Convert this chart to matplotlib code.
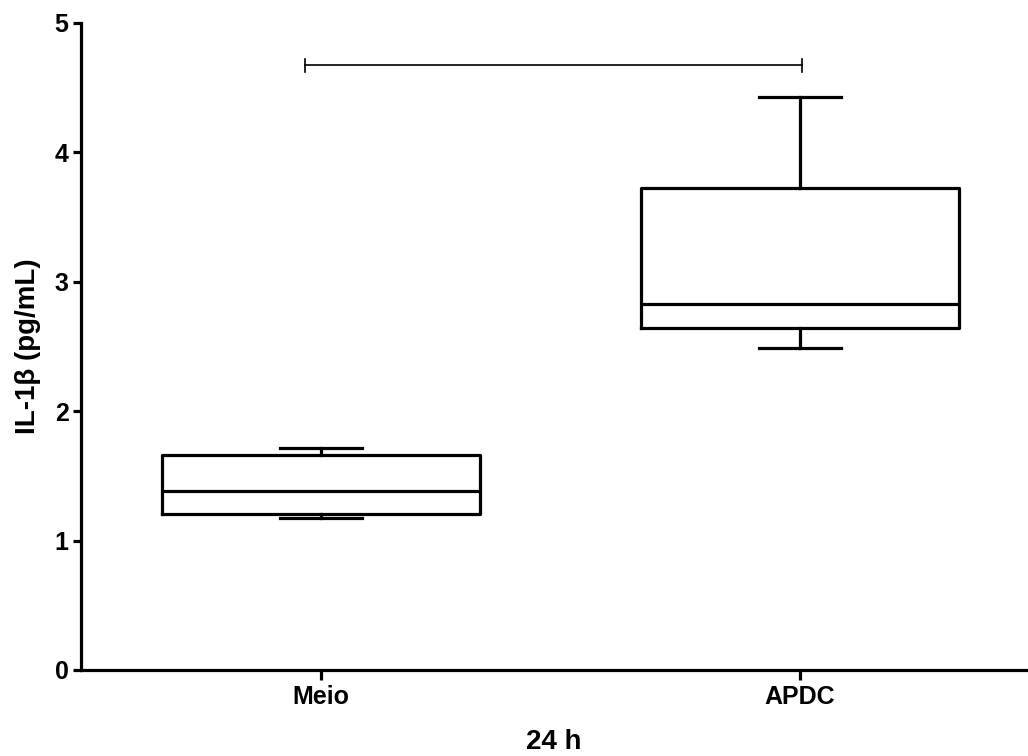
import matplotlib
matplotlib.use("Agg")
import matplotlib.pyplot as plt

# Groups and box statistics (pg/mL)
groups = ["Meio", "APDC"]
whisker_low = [1.177, 2.49]
q1 = [1.203, 2.646]
median = [1.386, 2.831]
q3 = [1.661, 3.727]
whisker_high = [1.718, 4.43]

# significance bracket
bracket_y = 4.673
bracket_x = [-0.033, 1.004]

plt.rcParams['font.family'] = ['Liberation Sans', 'DejaVu Sans']
plt.rcParams['font.weight'] = 'bold'

fig = plt.figure(figsize=(10.28, 7.56), dpi=100)
ax = fig.add_axes([0.0788, 0.1138, 0.9202, 0.8558])

stats = []
for i, g in enumerate(groups):
    stats.append({
        "label": g,
        "whislo": whisker_low[i],
        "q1": q1[i],
        "med": median[i],
        "q3": q3[i],
        "whishi": whisker_high[i],
        "fliers": [],
    })

lw = 2.3
ax.bxp(stats, positions=[0, 1], widths=0.665, capwidths=0.171,
       showfliers=False, patch_artist=False,
       boxprops=dict(color="black", linewidth=lw),
       medianprops=dict(color="black", linewidth=lw),
       whiskerprops=dict(color="black", linewidth=lw),
       capprops=dict(color="black", linewidth=lw))

# bracket
ax.plot(bracket_x, [bracket_y, bracket_y], color="black", linewidth=1.2)
for bx in bracket_x:
    ax.plot([bx, bx], [bracket_y - 0.05, bracket_y + 0.05], color="black", linewidth=1.2)

ax.set_xlim(-0.502, 1.475)
ax.set_ylim(0, 5)
ax.set_yticks([0, 1, 2, 3, 4, 5])
ax.set_xticks([0, 1])
ax.set_xticklabels(groups, fontsize=18, fontweight="bold")
for lab in ax.get_yticklabels():
    lab.set_fontsize(18)
    lab.set_fontweight("bold")

ax.spines["top"].set_visible(False)
ax.spines["right"].set_visible(False)
ax.spines["left"].set_linewidth(2.3)
ax.spines["bottom"].set_linewidth(2.3)
ax.tick_params(axis="y", length=6, width=2.3, pad=3)
ax.tick_params(axis="x", length=7, width=2.3, pad=4)

ax.set_ylabel("IL-1β (pg/mL)", fontsize=20, fontweight="bold", labelpad=10)
ax.set_xlabel("24 h", fontsize=20, fontweight="bold", labelpad=14)

fig.savefig("out.png", dpi=100)
